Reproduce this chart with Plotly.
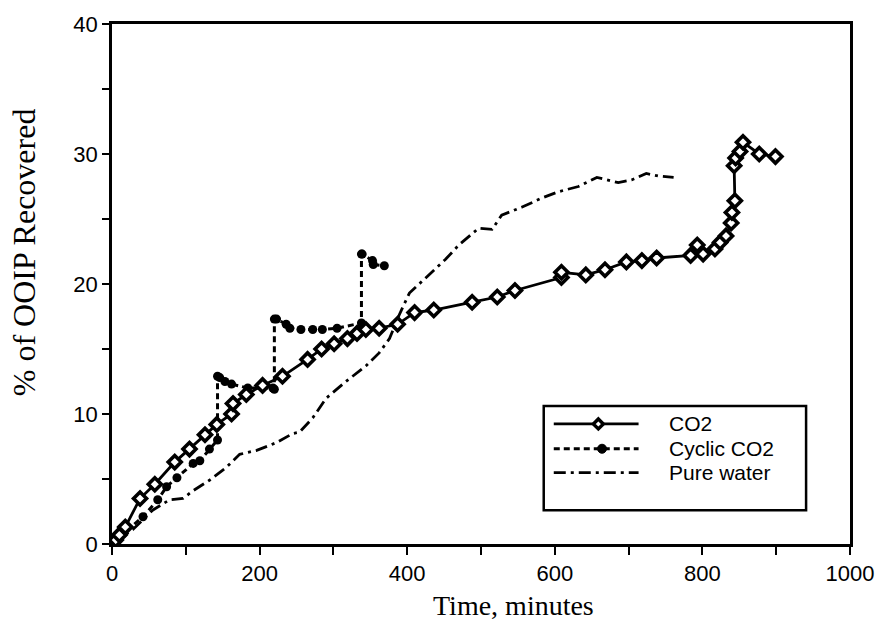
import plotly.graph_objects as go

# Oil recovery (% of OOIP) versus time for three displacement schemes
co2_t = [0, 5, 10, 18, 38, 58, 85, 105, 126, 142, 162, 164, 182, 204, 231, 265,
         284, 301, 319, 332, 344, 362, 387, 410, 436, 488, 522, 546, 609, 609,
         642, 668, 697, 718, 738, 784, 793, 801, 817, 824, 832, 839, 840, 844,
         843, 845, 851, 855, 877, 899]
co2_v = [0, 0.3, 0.7, 1.3, 3.5, 4.6, 6.3, 7.3, 8.4, 9.2, 10.0, 10.8, 11.5, 12.2,
         12.9, 14.2, 15.0, 15.4, 15.8, 16.2, 16.5, 16.6, 16.9, 17.8, 18.0, 18.6,
         19.0, 19.5, 20.5, 20.9, 20.7, 21.1, 21.7, 21.8, 22.0, 22.2, 23.0, 22.3,
         22.7, 23.2, 23.7, 24.7, 25.5, 26.4, 29.1, 29.7, 30.2, 30.9, 30.0, 29.8]

cyc_t = [0, 15, 42, 62, 74, 88, 110, 119, 132, 143, 143, 146, 153, 162, 184,
         218, 220, 220, 223, 236, 241, 256, 272, 285, 305, 338, 338, 339, 353,
         354, 369]
cyc_v = [0, 0.8, 2.1, 3.4, 4.4, 5.1, 6.2, 6.4, 7.3, 8.0, 12.9, 12.8, 12.5, 12.3,
         12.0, 12.0, 11.9, 17.3, 17.3, 16.9, 16.6, 16.5, 16.5, 16.5, 16.6, 17.0,
         22.3, 22.3, 21.8, 21.5, 21.4]

water_t = [0, 10, 28, 55, 78, 96, 110, 132, 155, 173, 196, 223, 245, 254, 272,
           290, 317, 344, 362, 376, 389, 403, 430, 452, 470, 497, 515, 528, 555,
           582, 605, 632, 657, 686, 704, 724, 741, 761]
water_v = [0, 0.4, 1.1, 2.6, 3.4, 3.5, 4.1, 4.9, 5.9, 6.9, 7.2, 7.8, 8.5, 8.6,
           9.7, 11.2, 12.5, 13.7, 14.7, 15.8, 17.6, 19.3, 20.7, 21.9, 23.0, 24.3,
           24.2, 25.3, 25.9, 26.6, 27.1, 27.5, 28.2, 27.8, 28.0, 28.5, 28.3, 28.2]

series_names = ["CO2", "Cyclic CO2", "Pure water"]
x_ticks = [0, 200, 400, 600, 800, 1000]
y_ticks = [0, 10, 20, 30, 40]

INK = "black"
water_dash = "12px,5px,3px,5px"
cyc_dash = "6px,4px"

fig = go.Figure()
fig.add_trace(go.Scatter(
    x=water_t, y=water_v, mode="lines", name=series_names[2],
    line=dict(color=INK, width=2.8, dash=water_dash)))
fig.add_trace(go.Scatter(
    x=cyc_t, y=cyc_v, mode="lines+markers", name=series_names[1],
    line=dict(color=INK, width=3, dash=cyc_dash),
    marker=dict(symbol="circle", size=9, color=INK)))
fig.add_trace(go.Scatter(
    x=co2_t, y=co2_v, mode="lines+markers", name=series_names[0],
    line=dict(color=INK, width=2.8),
    marker=dict(symbol="diamond", size=10, color="white",
                line=dict(color=INK, width=3.6))))

tick_font = dict(family="Liberation Sans, Arial, sans-serif", size=22, color=INK)
xtitle_font = dict(family="Liberation Serif, Times New Roman, serif", size=28, color=INK)
ytitle_font = dict(family="Liberation Serif, Times New Roman, serif", size=32, color=INK)

fig.update_xaxes(
    range=[0, 1000], tickvals=x_ticks, ticktext=[str(v) for v in x_ticks],
    ticks="outside", ticklen=8, tickwidth=2, tickcolor=INK,
    minor=dict(dtick=100, ticks="outside", ticklen=8, tickwidth=2, tickcolor=INK),
    showline=True, linewidth=2.5, linecolor=INK, mirror=True,
    showgrid=False, zeroline=False, tickfont=tick_font)
fig.update_yaxes(
    range=[0, 40], tickvals=y_ticks, ticktext=[str(v) for v in y_ticks],
    ticks="outside", ticklen=7, tickwidth=2, tickcolor=INK,
    minor=dict(dtick=5, ticks="outside", ticklen=7, tickwidth=2, tickcolor=INK),
    showline=True, linewidth=2.5, linecolor=INK, mirror=True,
    showgrid=False, zeroline=False, tickfont=tick_font)

# Hand-drawn legend box with longer line samples
box = dict(x0=0.585, x1=0.9405, y0=0.065, y1=0.2653)
rows_y = [0.2309, 0.1832, 0.1374]
sample_x0, sample_x1, sample_mid = 0.5986, 0.7135, 0.659
text_x = 0.7514

shapes = [dict(type="rect", xref="paper", yref="paper", **box,
               line=dict(color=INK, width=2.5), fillcolor="white", layer="above")]
row_dash = ["solid", cyc_dash, water_dash]
for yy, dsh in zip(rows_y, row_dash):
    shapes.append(dict(type="line", xref="paper", yref="paper",
                       x0=sample_x0, x1=sample_x1, y0=yy, y1=yy,
                       line=dict(color=INK, width=2.8, dash=dsh), layer="above"))
# diamond marker in the CO2 row
shapes.append(dict(type="path", xref="paper", yref="paper",
                   xsizemode="pixel", ysizemode="pixel",
                   xanchor=sample_mid, yanchor=rows_y[0],
                   path="M0,5 L5,0 L0,-5 L-5,0 Z",
                   fillcolor="white", line=dict(color=INK, width=3.4), layer="above"))
# dot marker in the Cyclic CO2 row
shapes.append(dict(type="circle", xref="paper", yref="paper",
                   xsizemode="pixel", ysizemode="pixel",
                   xanchor=sample_mid + 0.005, yanchor=rows_y[1],
                   x0=-4.5, x1=4.5, y0=-4.5, y1=4.5,
                   fillcolor=INK, line=dict(color=INK, width=1), layer="above"))

annotations = []
legend_font = dict(family="Liberation Sans, Arial, sans-serif", size=21, color=INK)
for yy, name in zip(rows_y, series_names):
    annotations.append(dict(xref="paper", yref="paper", x=text_x, y=yy,
                            text=name, showarrow=False, xanchor="left",
                            yanchor="middle", font=legend_font))
annotations.append(dict(xref="paper", yref="paper", x=0.5446, y=-0.118,
                        text="Time, minutes", showarrow=False,
                        xanchor="center", yanchor="middle", font=xtitle_font))
annotations.append(dict(xref="paper", yref="paper", x=-0.12, y=0.562,
                        text="% of OOIP Recovered", showarrow=False, textangle=-90,
                        xanchor="center", yanchor="middle", font=ytitle_font))

fig.update_layout(
    width=886, height=625,
    margin=dict(l=112, r=34, t=20, b=81),
    paper_bgcolor="white", plot_bgcolor="white",
    showlegend=False, shapes=shapes, annotations=annotations)

fig.write_html("out.html")
